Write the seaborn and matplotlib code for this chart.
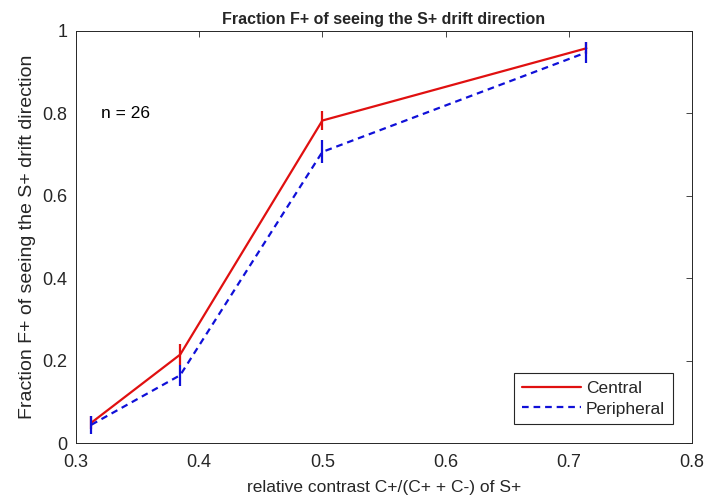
import numpy as np
import pandas as pd
import matplotlib
matplotlib.use("Agg")
import matplotlib.pyplot as plt
from matplotlib.lines import Line2D
import seaborn as sns

# data
contrast = [0.3125, 0.3846, 0.5, 0.7143]
central = [0.05, 0.215, 0.782, 0.957]
central_err = [0.015, 0.025, 0.022, 0.015]
peripheral = [0.045, 0.165, 0.706, 0.947]
peripheral_err = [0.022, 0.025, 0.028, 0.025]
xticks = [0.3, 0.4, 0.5, 0.6, 0.7, 0.8]
yticks = [0, 0.2, 0.4, 0.6, 0.8, 1]
yticklabels = ["0", "0.2", "0.4", "0.6", "0.8", "1"]

df = pd.DataFrame({
    "contrast": contrast * 2,
    "fraction": central + peripheral,
    "condition": ["Central"] * 4 + ["Peripheral"] * 4,
})

sns.set_style("white")
plt.rcParams["font.family"] = ["Liberation Sans", "DejaVu Sans"]
grey = "#262626"

fig = plt.figure(figsize=(7.06, 5.04), dpi=100)
ax = fig.add_axes([0.1076, 0.1204, 0.8725, 0.819])

palette = {"Central": "#e01010", "Peripheral": "#1010d8"}
sns.lineplot(data=df, x="contrast", y="fraction", hue="condition",
             style="condition", palette=palette,
             dashes={"Central": "", "Peripheral": (3, 2.2)},
             linewidth=1.6, ax=ax, legend=False)

ax.errorbar(contrast, central, yerr=central_err, fmt="none",
            ecolor=palette["Central"], elinewidth=1.6, capsize=0)
ax.errorbar(contrast, peripheral, yerr=peripheral_err, fmt="none",
            ecolor=palette["Peripheral"], elinewidth=1.6, capsize=0)

handles = [Line2D([], [], color=palette["Central"], lw=1.6),
           Line2D([], [], color=palette["Peripheral"], lw=1.6, ls=(0, (3, 2.2)))]
leg = ax.legend(handles, ["Central", "Peripheral"], loc="lower right",
                fontsize=12.5, handlelength=3.4, handletextpad=0.3,
                fancybox=False, framealpha=1, edgecolor=grey,
                borderaxespad=0, borderpad=0.45, labelspacing=0.3,
                bbox_to_anchor=(0.969, 0.046))
leg.get_frame().set_linewidth(0.8)

ax.text(0.32, 0.8, "n = 26", fontsize=12.5, va="center", ha="left", color="black")

ax.set_xlim(0.3, 0.8)
ax.set_ylim(0, 1)
ax.set_xticks(xticks)
ax.set_xticklabels([str(t) for t in xticks])
ax.set_yticks(yticks)
ax.set_yticklabels(yticklabels)
ax.tick_params(direction="in", length=4.5, width=0.6, top=True, right=True,
               labelsize=13, colors=grey)
ax.tick_params(axis="x", pad=8)
ax.tick_params(axis="y", pad=6)
for s in ax.spines.values():
    s.set_color(grey)
    s.set_linewidth(0.7)
    s.set_visible(True)

ax.set_xlabel("relative contrast C+/(C+ + C-) of S+", fontsize=12.5, color=grey, labelpad=6)
ax.set_ylabel("Fraction F+ of seeing the S+ drift direction", fontsize=14, color=grey, labelpad=5)
ax.set_title("Fraction F+ of seeing the S+ drift direction", fontsize=11.5,
             fontweight="bold", pad=5)

fig.savefig("out.png", dpi=100)
